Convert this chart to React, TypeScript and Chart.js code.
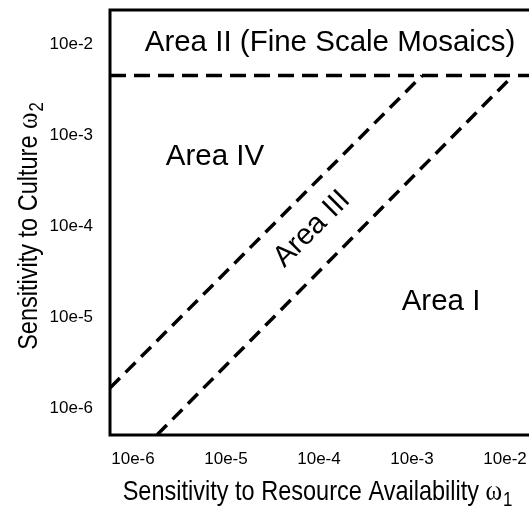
import { useEffect, useRef } from "react";
import { Chart, registerables } from "chart.js";

Chart.register(...registerables);

// Axis values are log10 of the sensitivity
const X_TICK_VALUES = [-6, -5, -4, -3, -2];
const X_TICK_LABELS = ["10e-6", "10e-5", "10e-4", "10e-3", "10e-2"];
const Y_TICK_VALUES = [-6, -5, -4, -3, -2];
const Y_TICK_LABELS = ["10e-6", "10e-5", "10e-4", "10e-3", "10e-2"];
const X_RANGE = [-6.247, -1.742];
const Y_RANGE = [-6.297, -1.627];

// Boundary lines between areas
const BOUNDARY_X = [-6.247, -1.742];
const BOUNDARY_Y = [-2.348, -2.348];
const UPPER_X = [-6.247, -2.892];
const UPPER_Y = [-5.78, -2.348];
const LOWER_X = [-5.742, -1.914];
const LOWER_Y = [-6.297, -2.348];

// Area labels
const AREA_LABELS = ["Area II (Fine Scale Mosaics)", "Area IV", "Area III", "Area I"];
const AREA_X = [-3.882, -5.118, -4.075, -2.688];
const AREA_Y = [-1.99, -3.242, -4.033, -4.83];
const AREA_ANGLE = [0, 0, -45, 0];

const X_TITLE = ["Sensitivity to Resource Availability ", "ω", "1"];
const Y_TITLE = ["Sensitivity to Culture ", "ω", "2"];

const SANS = '"Liberation Sans", Arial, sans-serif';
const SERIF = '"Liberation Serif", "Times New Roman", serif';
const CONDENSE = 0.84;

function drawTitle(ctx: CanvasRenderingContext2D, parts: string[], x: number, y: number, rot: number) {
  const fMain = `28px ${SANS}`;
  const fSym = `30px ${SERIF}`;
  const fSub = `20px ${SANS}`;
  ctx.font = fMain;
  const w1 = ctx.measureText(parts[0]).width;
  ctx.font = fSym;
  const w2 = ctx.measureText(parts[1]).width;
  ctx.font = fSub;
  const w3 = ctx.measureText(parts[2]).width;
  const total = w1 + w2 + 1 + w3;
  ctx.save();
  ctx.translate(x, y);
  ctx.rotate(rot);
  ctx.scale(CONDENSE, 1);
  ctx.textAlign = "left";
  ctx.textBaseline = "alphabetic";
  let cx = -total / 2;
  ctx.font = fMain;
  ctx.fillText(parts[0], cx, 0);
  cx += w1;
  ctx.font = fSym;
  ctx.fillText(parts[1], cx, 0);
  cx += w2 + 1;
  ctx.font = fSub;
  ctx.fillText(parts[2], cx, 6);
  ctx.restore();
}

const decorPlugin = {
  id: "decor",
  afterDatasetsDraw(chart: any) {
    const { ctx, chartArea, scales } = chart;
    ctx.save();
    ctx.setLineDash([]);
    ctx.strokeStyle = "#000";
    ctx.lineWidth = 3;
    ctx.lineJoin = "miter";
    ctx.beginPath();
    ctx.moveTo(chart.width + 10, chartArea.top);
    ctx.lineTo(chartArea.left, chartArea.top);
    ctx.lineTo(chartArea.left, chartArea.bottom);
    ctx.lineTo(chart.width + 10, chartArea.bottom);
    ctx.stroke();

    ctx.fillStyle = "#000";
    ctx.font = `29.5px ${SANS}`;
    ctx.textAlign = "center";
    ctx.textBaseline = "middle";
    AREA_LABELS.forEach((t, i) => {
      const px = scales.x.getPixelForValue(AREA_X[i]);
      const py = scales.y.getPixelForValue(AREA_Y[i]);
      ctx.save();
      ctx.translate(px, py);
      ctx.rotate((AREA_ANGLE[i] * Math.PI) / 180);
      ctx.fillText(t, 0, 0);
      ctx.restore();
    });

    drawTitle(ctx, X_TITLE, (chartArea.left + chartArea.right) / 2 - 2, 500, 0);
    drawTitle(ctx, Y_TITLE, 37, 226, -Math.PI / 2);
    ctx.restore();
  },
};

function toPoints(xs: number[], ys: number[]) {
  return xs.map((x, i) => ({ x, y: ys[i] }));
}

function zeroPadding(s: any) {
  s.paddingTop = 0;
  s.paddingBottom = 0;
  s.paddingLeft = 0;
  s.paddingRight = 0;
}

export default function App() {
  const ref = useRef<HTMLCanvasElement | null>(null);
  useEffect(() => {
    if (!ref.current) return;
    const lineStyle = {
      showLine: true,
      borderColor: "#000",
      backgroundColor: "#000",
      borderWidth: 3.5,
      pointRadius: 0,
      fill: false,
    };
    const chart = new Chart(ref.current, {
      type: "scatter",
      data: {
        datasets: [
          { ...lineStyle, data: toPoints(BOUNDARY_X, BOUNDARY_Y), borderDash: [16, 8] },
          { ...lineStyle, data: toPoints(UPPER_X, UPPER_Y), borderDash: [14, 8] },
          { ...lineStyle, data: toPoints(LOWER_X, LOWER_Y), borderDash: [14, 8] },
        ],
      },
      options: {
        animation: false,
        responsive: false,
        layout: { padding: { top: 10, left: 0, right: 0, bottom: 0 } },
        plugins: { legend: { display: false }, tooltip: { enabled: false } },
        scales: {
          x: {
            type: "linear",
            min: X_RANGE[0],
            max: X_RANGE[1],
            grid: { display: false, drawTicks: false },
            border: { display: false },
            afterBuildTicks: (s: any) => {
              s.ticks = X_TICK_VALUES.map((v) => ({ value: v }));
            },
            afterFit: (s: any) => {
              s.height = 72;
              zeroPadding(s);
            },
            ticks: {
              padding: 14,
              color: "#000",
              maxRotation: 0,
              autoSkip: false,
              font: { family: SANS, size: 17 },
              callback: (v: any) => {
                const i = X_TICK_VALUES.indexOf(Number(v));
                return i >= 0 ? X_TICK_LABELS[i] : "";
              },
            },
          },
          y: {
            type: "linear",
            min: Y_RANGE[0],
            max: Y_RANGE[1],
            grid: { display: false, drawTicks: false },
            border: { display: false },
            afterBuildTicks: (s: any) => {
              s.ticks = Y_TICK_VALUES.map((v) => ({ value: v }));
            },
            afterFit: (s: any) => {
              s.width = 110;
              zeroPadding(s);
            },
            ticks: {
              padding: 17,
              color: "#000",
              autoSkip: false,
              font: { family: SANS, size: 17 },
              callback: (v: any) => {
                const i = Y_TICK_VALUES.indexOf(Number(v));
                return i >= 0 ? Y_TICK_LABELS[i] : "";
              },
            },
          },
        },
      },
      plugins: [decorPlugin],
    });
    return () => chart.destroy();
  }, []);
  return (
    <div style={{ position: "absolute", left: 0, top: 0, width: 529, height: 507, background: "#fff" }}>
      <canvas ref={ref} width={529} height={507} style={{ display: "block" }} />
    </div>
  );
}
